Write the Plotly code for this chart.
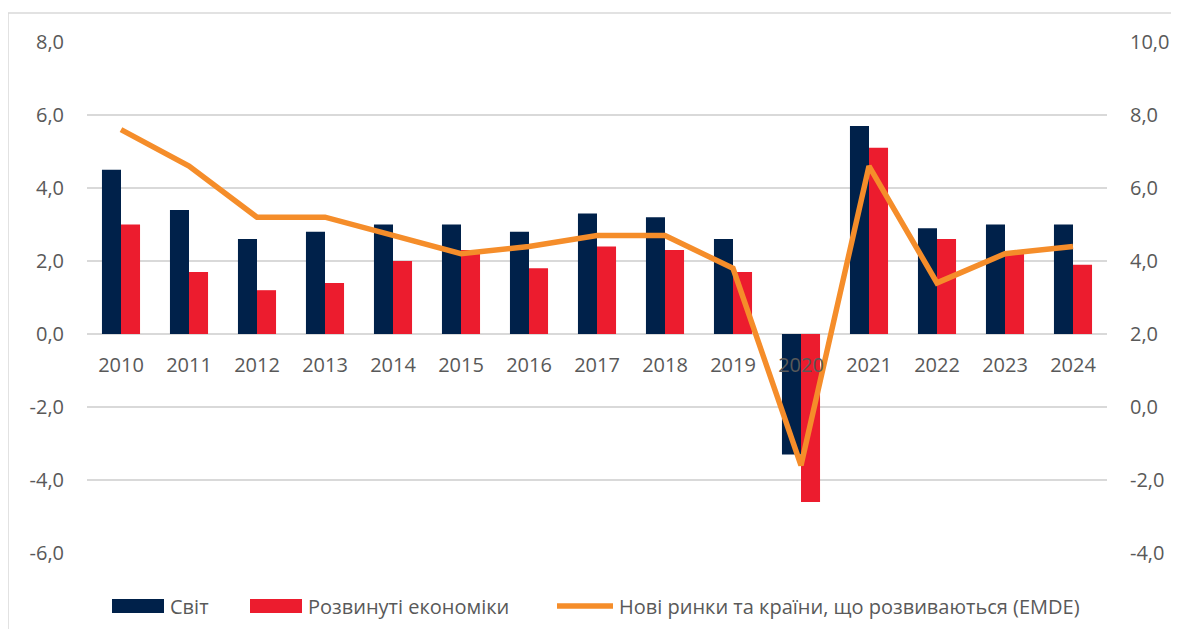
import plotly.graph_objects as go

years = [str(y) for y in range(2010, 2025)]
world = [4.5, 3.4, 2.6, 2.8, 3.0, 3.0, 2.8, 3.3, 3.2, 2.6, -3.3, 5.7, 2.9, 3.0, 3.0]
advanced = [3.0, 1.7, 1.2, 1.4, 2.0, 2.3, 1.8, 2.4, 2.3, 1.7, -4.6, 5.1, 2.6, 2.2, 1.9]
emde = [7.6, 6.6, 5.2, 5.2, 4.7, 4.2, 4.4, 4.7, 4.7, 3.8, -1.6, 6.6, 3.4, 4.2, 4.4]

left_ticks = [-6, -4, -2, 0, 2, 4, 6, 8]
right_ticks = [-4, -2, 0, 2, 4, 6, 8, 10]

names = ["Світ", "Розвинуті економіки", "Нові ринки та країни, що розвиваються (EMDE)"]
colors = ["#00214A", "#EC1C2E", "#F58D2A"]

FONT = "Open Sans"
GRAY = "#595959"
FS = 20

OFF = 8  # page body margin
W, H = 1163, 621
L, T = 79, 34
PW, PH = 1020, 511
R, B = W - L - PW, H - T - PH


def px(x):
    return (x - OFF - L) / PW


def py(y):
    return (H - B - (y - OFF)) / PH


fig = go.Figure()
fig.add_trace(go.Bar(x=years, y=world, name=names[0], marker_color=colors[0],
                     marker_line_width=0, showlegend=False))
fig.add_trace(go.Bar(x=years, y=advanced, name=names[1], marker_color=colors[1],
                     marker_line_width=0, showlegend=False))
fig.add_trace(go.Scatter(x=years, y=emde, name=names[2], mode="lines",
                         line=dict(color=colors[2], width=5.5), yaxis="y2",
                         showlegend=False))

# manual legend (swatch geometry in page pixels)
legend_items = [
    ("rect", 112, 164, 168),
    ("rect", 250, 302, 306),
    ("line", 557, 613, 617),
]
ly = 606
shapes = [dict(type="rect", xref="paper", yref="paper",
               x0=px(8), x1=px(1220), y0=py(700), y1=py(13),
               line=dict(color="#D9D9D9", width=1.5), fillcolor="rgba(0,0,0,0)",
               layer="below")]
annotations = []
for (kind, x0, x1, tx), name, col in zip(legend_items, names, colors):
    if kind == "rect":
        shapes.append(dict(type="rect", xref="paper", yref="paper",
                           x0=px(x0), x1=px(x1), y0=py(ly + 7), y1=py(ly - 7),
                           fillcolor=col, line=dict(width=0)))
    else:
        shapes.append(dict(type="line", xref="paper", yref="paper",
                           x0=px(x0), x1=px(x1), y0=py(ly), y1=py(ly),
                           line=dict(color=col, width=5.5)))
    annotations.append(dict(text=name, xref="paper", yref="paper", x=px(tx), y=py(ly),
                            xanchor="left", yanchor="middle", showarrow=False,
                            font=dict(family=FONT, size=FS, color=GRAY)))

fig.update_layout(
    width=W, height=H,
    paper_bgcolor="white", plot_bgcolor="white",
    margin=dict(l=L, r=R, t=T, b=B, autoexpand=False),
    barmode="group", bargap=0.44, bargroupgap=0,
    font=dict(family=FONT, color=GRAY, size=FS),
    showlegend=False,
    xaxis=dict(type="category", anchor="free", position=6/14, showline=False,
               ticks="", showgrid=False, ticklabelstandoff=17, automargin=False,
               tickfont=dict(size=FS, color=GRAY)),
    yaxis=dict(range=[-6, 8], tickvals=left_ticks,
               ticktext=[f"{v:.1f}".replace(".", ",") for v in left_ticks],
               showgrid=True, gridcolor="#D9D9D9", gridwidth=1.5, zeroline=False,
               ticks="", ticklabelstandoff=22, automargin=False,
               tickfont=dict(size=FS, color=GRAY)),
    yaxis2=dict(range=[-4, 10], tickvals=right_ticks,
                ticktext=[f"{v:.1f}".replace(".", ",") for v in right_ticks],
                overlaying="y", side="right", showgrid=False, zeroline=False,
                ticks="", ticklabelstandoff=22, automargin=False,
                tickfont=dict(size=FS, color=GRAY)),
    shapes=shapes,
    annotations=annotations,
)

fig.write_html("out.html")
